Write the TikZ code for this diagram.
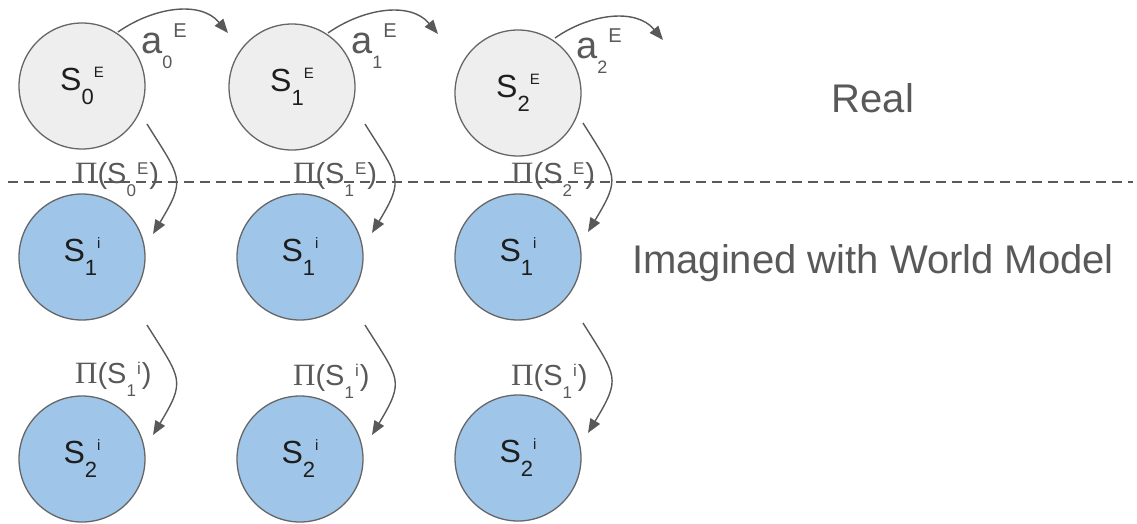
\documentclass[tikz,border=0pt]{standalone}
\usepackage{fontspec}
\setmainfont{Liberation Sans}
\newfontfamily\pifont{Liberation Serif}
\usetikzlibrary{arrows.meta,calc}
\definecolor{realfill}{HTML}{EEEEEE}
\definecolor{imgfill}{HTML}{9FC5E8}
\definecolor{edgegray}{HTML}{666666}
\definecolor{inkgray}{HTML}{595959}
\definecolor{darkink}{HTML}{1E1E1E}
\newcommand{\fsz}[1]{\fontsize{#1}{#1}\selectfont}
\newcommand{\stlab}[2]{\fsz{32}S\raisebox{-14pt}{\fsz{22}#1}\raisebox{13pt}{\fsz{15}#2}}
\newcommand{\actlab}[1]{\fsz{38}a\raisebox{-15pt}{\fsz{18}#1}\kern1pt\raisebox{16pt}{\fsz{20}E}}
\newcommand{\pilab}[2]{\fsz{29}{\pifont\fsz{31}Π}(S\raisebox{-13pt}{\fsz{17}#1}\kern1pt\raisebox{9pt}{\fsz{17}#2}\kern1pt)}
\tikzset{
  state/.style={circle, draw=edgegray, line width=1.3pt, minimum size=126pt, inner sep=0pt, text=darkink},
  realst/.style={state, fill=realfill},
  imgst/.style={state, fill=imgfill},
  flow/.style={draw=inkgray, line width=1.4pt, -{Triangle[length=14pt,width=11pt]}},
  lab/.style={inner sep=0pt, text=inkgray, anchor=base west},
  side/.style={inner sep=0pt, text=inkgray, anchor=base, font=\fsz{40}},
}
\begin{document}
\begin{tikzpicture}[x=1pt,y=1pt]
\useasboundingbox (0,0) rectangle (1137,-523);
% separator
\coordinate (dl) at (8,-182);
\coordinate (dr) at (1133,-182);
\draw[inkgray, line width=1.3pt, dash pattern=on 10pt off 6pt] (dl) -- (dr);
% states
\node[realst] (A0) at (82,-86) {\stlab{0}{E}};
\node[realst] (A1) at (292,-87) {\stlab{1}{E}};
\node[realst] (A2) at (518,-93) {\stlab{2}{E}};
\node[imgst] (B0) at (82,-257) {\stlab{1}{i}};
\node[imgst] (B1) at (300,-257) {\stlab{1}{i}};
\node[imgst] (B2) at (518,-257) {\stlab{1}{i}};
\node[imgst] (C0) at (82,-459) {\stlab{2}{i}};
\node[imgst] (C1) at (300,-459) {\stlab{2}{i}};
\node[imgst] (C2) at (518,-458) {\stlab{2}{i}};
% action arrows
\coordinate (a0s) at ($(A0)+(36,54)$);
\coordinate (a0e) at ($(A1)+(-64,54)$);
\coordinate (a1s) at ($(A1)+(36,54)$);
\coordinate (a1e) at ($(A2)+(-80,59)$);
\coordinate (a2s) at ($(A2)+(37,55)$);
\coordinate (a2e) at ($(A2)+(145,53)$);
\draw[flow] (a0s) to[out=35,in=130] (a0e);
\draw[flow] (a1s) to[out=35,in=130] (a1e);
\draw[flow] (a2s) to[out=35,in=130] (a2e);
% policy arrows
\coordinate (p0s) at ($(A0)+(65,-38)$);
\coordinate (p0e) at ($(B0)+(71,23)$);
\coordinate (p1s) at ($(A1)+(73,-37)$);
\coordinate (p1e) at ($(B1)+(72,24)$);
\coordinate (p2s) at ($(A2)+(65,-30)$);
\coordinate (p2e) at ($(B2)+(70,25)$);
\coordinate (q0s) at ($(B0)+(65,-68)$);
\coordinate (q0e) at ($(C0)+(71,24)$);
\coordinate (q1s) at ($(B1)+(65,-68)$);
\coordinate (q1e) at ($(C1)+(72,24)$);
\coordinate (q2s) at ($(B2)+(65,-66)$);
\coordinate (q2e) at ($(C2)+(70,25)$);
\foreach \s/\e in {p0s/p0e,p1s/p1e,p2s/p2e,q0s/q0e,q1s/q1e,q2s/q2e}
  \draw[flow] (\s) to[out=-58,in=59,looseness=1.5] (\e);
% labels
\node[lab] (la0) at (141,-53) {\actlab{0}};
\node[lab] (la1) at (351,-53) {\actlab{1}};
\node[lab] (la2) at (576,-58) {\actlab{2}};
\node[lab] (lp0) at (75,-183) {\pilab{0}{E}};
\node[lab] (lp1) at (293,-183) {\pilab{1}{E}};
\node[lab] (lp2) at (511,-183) {\pilab{2}{E}};
\node[lab] (lq0) at (75,-383) {\pilab{1}{i}};
\node[lab] (lq1) at (293,-385) {\pilab{1}{i}};
\node[lab] (lq2) at (511,-385) {\pilab{1}{i}};
\node[side] (real) at (873,-112) {Real};
\node[side] (imag) at (873,-273) {Imagined with World Model};
\end{tikzpicture}
\end{document}
